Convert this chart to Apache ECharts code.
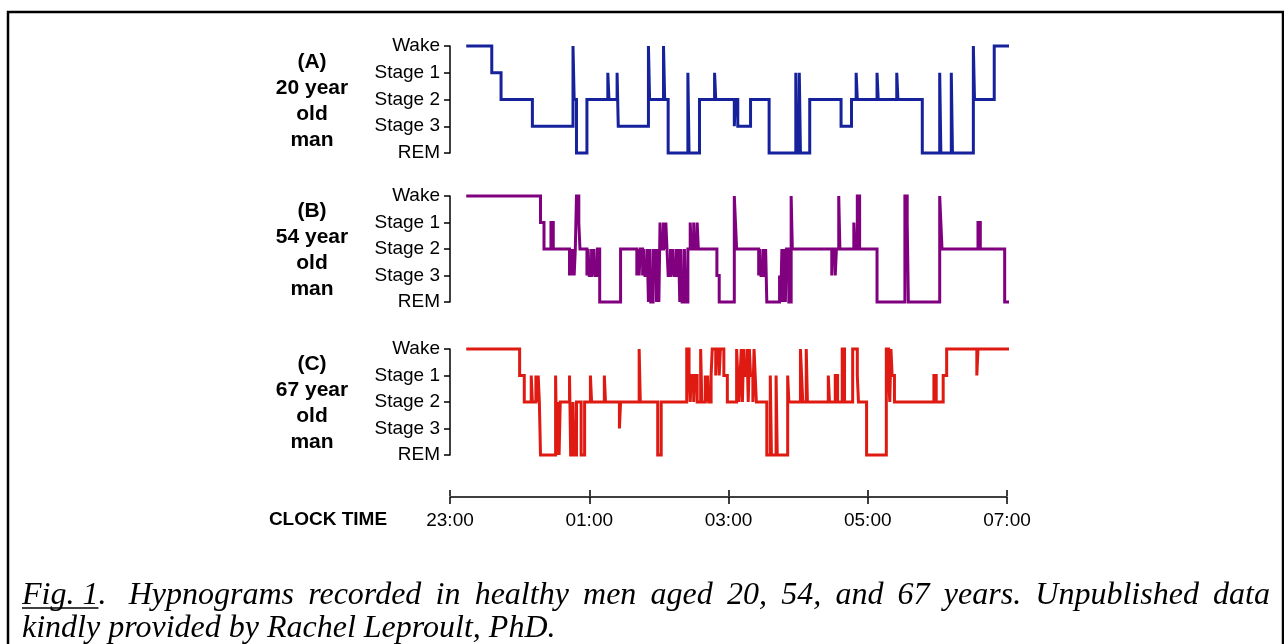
<!DOCTYPE html>
<html><head><meta charset="utf-8">
<script src="https://cdn.jsdelivr.net/npm/echarts@6/dist/echarts.min.js"></script>
<style>html,body{margin:0;padding:0;background:#fff}#c{width:1284px;height:644px}</style>
</head><body><div id="c"></div>
<script>
// stage codes: 0 = REM, 1 = Stage 3, 2 = Stage 2, 3 = Stage 1, 4 = Wake
const stageLabels = ['REM', 'Stage 3', 'Stage 2', 'Stage 1', 'Wake'];
// clock ticks, minutes after 23:00
const timeTicks = [0, 120, 240, 360, 480];
const timeLabels = ['23:00', '01:00', '03:00', '05:00', '07:00'];
const panelLabels = ['(A)\n20 year\nold\nman', '(B)\n54 year\nold\nman', '(C)\n67 year\nold\nman'];
const captionLine1 = ['Fig. 1.', 'Hypnograms', 'recorded', 'in', 'healthy', 'men', 'aged', '20,', '54,', 'and', '67', 'years.', 'Unpublished', 'data'];
const captionLine2 = 'kindly provided by Rachel Leproult, PhD.';

// [minutes after 23:00, stage] change points (stage held until next point)
const hypnoA = [[14,4],[36,3],[44,2],[71,1],[106,4],[107,2],[109,0],[118,2],[136,3],[137,2],[144,3],[145,1],[171,4],[172,2],[184,4],[185,2],[188,0],[205,3],[206,0],[215,2],[228,3],[229,2],[245,1],[246,2],[248,1],[259,2],[275,0],[298,3],[299,0],[301,3],[302,0],[310,2],[337,1],[346,2],[350,3],[351,2],[368,3],[369,2],[385,3],[386,2],[407,0],[422,3],[423,0],[432,3],[433,0],[451,4],[452,2],[469,4],[486,4]];

const hypnoB = [[14,4],[78,3],[81,2],[87,3],[89,2],
[103,1],[104,2],[105,1],[106,2],[107,1],[108,2],
[109,4],[111,3],[112,2],
[118,1],[119,2],[120,1],[122,2],[123,1],[124,2],[125,1],[127,2],
[129,0],[147,2],
[161,1],[162,2],[163,1],[164,2],[166,1],[167,2],[168,1],[170,2],
[171,0],[172,2],[173,0],[175,2],[176,1],[177,2],[178,0],[179,2],[180,0],
[181,3],[182,2],[184,3],[185,2],[186,3],[187,2],
[188,1],[190,2],[191,1],[192,2],[193,1],[195,2],[196,1],[197,2],
[198,0],[199,2],[200,0],[202,2],[203,0],[205,2],
[207,3],[208,2],[210,3],[211,2],[213,3],[214,2],
[230,1],[232,0],
[245,4],[246,3],[247,2],
[266,1],[267,2],[268,1],[270,2],[271,1],[272,2],
[273,0],[284,1],[285,0],[286,2],[287,0],[288,2],[289,0],[290,2],[292,0],
[294,4],[295,2],
[329,1],[330,2],[332,1],[333,2],
[335,4],[336,2],
[348,3],[349,2],[351,4],[353,2],
[368,0],[392,4],[394,3],[395,0],
[422,4],[423,3],[424,2],
[455,3],[457,2],
[478,0],[484,3],[485,3]];

const hypnoC = [[14,4],[60,3],[64,2],[70,3],[71,2],[74,3],[75,2],[76,3],[77,2],
[78,0],[91,3],[92,0],[93,2],[94,0],[95,2],
[103,3],[104,0],[106,2],[107,0],
[109,2],[113,0],[116,2],
[121,3],[122,2],[133,3],[134,2],[146,1],[147,2],
[163,4],[164,2],[179,0],[182,2],
[204,4],[206,3],[207,2],[208,3],[210,2],[211,3],[213,2],
[216,4],[217,2],[220,3],[221,2],[222,3],[223,2],[225,3],
[226,4],[229,3],[230,4],[232,3],[233,4],[236,3],
[239,2],
[247,4],[248,3],[249,2],[250,3],[251,4],[252,2],[253,4],[254,3],[256,4],[257,2],[258,4],[259,3],[261,2],[262,4],[263,3],
[264,2],
[273,0],[276,3],[277,0],[281,3],[282,0],[291,3],[292,2],
[302,4],[303,3],[304,2],[307,4],[308,2],
[326,3],[327,2],[332,3],[334,2],
[338,4],[340,2],[347,4],[351,3],[352,2],
[359,0],
[376,4],[378,3],[379,2],[380,4],[381,3],[383,2],
[417,3],[419,2],
[425,3],[428,4],
[454,3],[455,4],
[483,4]];

const series = [hypnoA, hypnoB, hypnoC];
const colors = ['#16219c', '#800080', '#de1a12'];
const panelTops = [46, 196, 349];
const panelHeights = [107, 106, 106];

const chart = echarts.init(document.getElementById('c'), null, {renderer: 'canvas'});

const FONT = '"Liberation Sans", Arial, sans-serif';
const SERIF = '"Liberation Serif", "Times New Roman", serif';

const grids = [], xAxes = [], yAxes = [], ser = [];
for (let i = 0; i < 3; i++) {
  grids.push({left: 450, width: 557, top: panelTops[i], height: panelHeights[i], outerBoundsMode: 'none'});
  xAxes.push({type: 'value', gridIndex: i, min: 0, max: 480, show: false});
  yAxes.push({
    type: 'value', gridIndex: i, min: 0, max: 4, interval: 1,
    axisLine: {show: true, lineStyle: {color: '#000', width: 1.5}},
    axisTick: {show: true, length: 6, lineStyle: {color: '#000', width: 1.5}},
    axisLabel: {formatter: v => stageLabels[v], fontSize: 19, color: '#000', fontFamily: FONT, margin: 10, padding: [4, 0, 0, 0]},
    splitLine: {show: false}
  });
  ser.push({
    type: 'line', xAxisIndex: i, yAxisIndex: i, step: 'end',
    data: series[i], symbol: 'none', showSymbol: false, clip: false,
    lineStyle: {color: colors[i], width: 3, join: 'miter'}, animation: false
  });
}
grids.push({left: 450, width: 557, top: 496, height: 1, outerBoundsMode: 'none'});
xAxes.push({
  type: 'value', gridIndex: 3, min: 0, max: 480, interval: 120, position: 'bottom',
  axisLine: {show: true, lineStyle: {color: '#000', width: 1.5}},
  axisTick: {show: true, length: 7, lineStyle: {color: '#000', width: 1.5}},
  axisLabel: {formatter: v => timeLabels[timeTicks.indexOf(v)], fontSize: 19, color: '#000', fontFamily: FONT, margin: 14},
  splitLine: {show: false}
});
xAxes.push({
  type: 'value', gridIndex: 3, min: 0, max: 480, interval: 120, position: 'top',
  axisLine: {show: false},
  axisTick: {show: true, length: 6, lineStyle: {color: '#000', width: 1.5}},
  axisLabel: {show: false}, splitLine: {show: false}
});
yAxes.push({type: 'value', gridIndex: 3, min: 0, max: 1, show: false});

// graphics
const graphic = [];
graphic.push({type: 'rect', shape: {x: 8, y: 12, width: 1275, height: 700}, style: {fill: 'none', stroke: '#000', lineWidth: 2.5}, silent: true});
const panelCenters = [101, 250, 403];
for (let i = 0; i < 3; i++) {
  graphic.push({type: 'text', x: 312, y: panelCenters[i], style: {text: panelLabels[i], font: 'bold 21px ' + FONT, fill: '#000', align: 'center', verticalAlign: 'middle', lineHeight: 26}});
}
graphic.push({type: 'text', x: 328, y: 520, style: {text: 'CLOCK TIME', font: 'bold 19px ' + FONT, fill: '#000', align: 'center', verticalAlign: 'middle'}});

// justified caption line 1
const capFont = 'italic 32px ' + SERIF;
const ctx = document.createElement('canvas').getContext('2d');
ctx.font = capFont;
const left = 22, right = 1270;
const widths = captionLine1.map(w => ctx.measureText(w).width);
const spaceW = ctx.measureText(' ').width;
const total = widths.reduce((a, b) => a + b, 0) + spaceW;
const gap = (right - left - total) / (captionLine1.length - 1);
let xx = left;
const mid1 = 596, mid2 = 629;
captionLine1.forEach((w, k) => {
  graphic.push({type: 'text', x: xx, y: mid1, style: {text: w, font: capFont, fill: '#000', align: 'left', verticalAlign: 'middle'}});
  if (k === 0) {
    const uw = ctx.measureText('Fig. 1').width;
    graphic.push({type: 'line', shape: {x1: xx, y1: mid1 + 12, x2: xx + uw, y2: mid1 + 12}, style: {stroke: '#000', lineWidth: 1.5}});
    xx += spaceW;
  }
  xx += widths[k] + gap;
});
graphic.push({type: 'text', x: left, y: mid2, style: {text: captionLine2, font: capFont, fill: '#000', align: 'left', verticalAlign: 'middle'}});

chart.setOption({
  animation: false,
  backgroundColor: '#fff',
  grid: grids, xAxis: xAxes, yAxis: yAxes, series: ser, graphic: graphic
});
</script></body></html>
